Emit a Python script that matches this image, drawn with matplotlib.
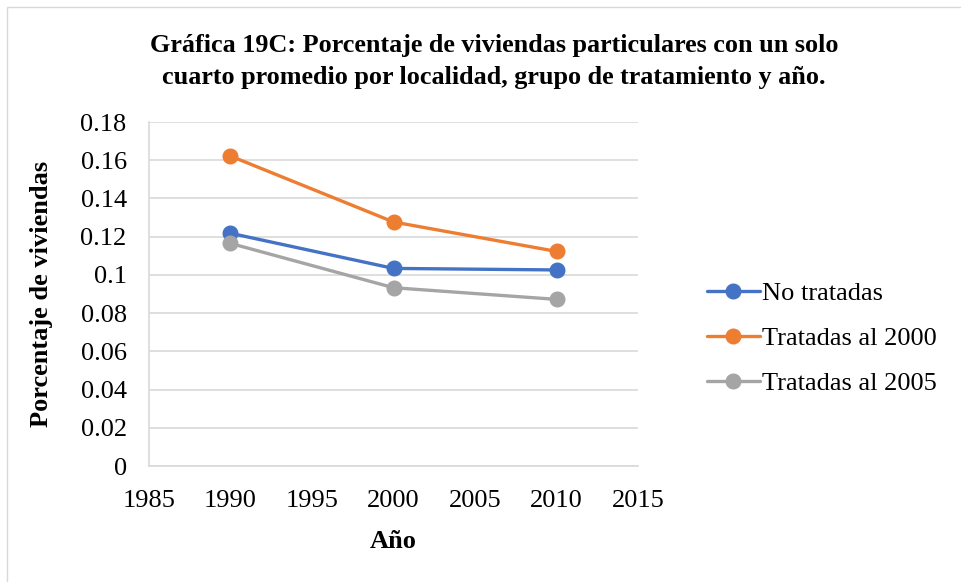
import matplotlib
matplotlib.use("Agg")
import matplotlib.pyplot as plt
from matplotlib.patches import Rectangle

plt.rcParams["font.family"] = ["Liberation Serif", "DejaVu Serif"]

# ── data ─────────────────────────────────────────────────────────────────────
years = [1990, 2000, 2010]
no_tratadas = [0.1218, 0.1034, 0.1026]
tratadas_2000 = [0.1622, 0.1277, 0.1123]
tratadas_2005 = [0.1165, 0.0933, 0.0872]

series = [
    ("No tratadas", no_tratadas, "#4472C4"),
    ("Tratadas al 2000", tratadas_2000, "#ED7D31"),
    ("Tratadas al 2005", tratadas_2005, "#A5A5A5"),
]

xticks = [1985, 1990, 1995, 2000, 2005, 2010, 2015]
yticks = [0, 0.02, 0.04, 0.06, 0.08, 0.1, 0.12, 0.14, 0.16, 0.18]
ytick_labels = ["0", "0.02", "0.04", "0.06", "0.08", "0.1", "0.12",
                "0.14", "0.16", "0.18"]

# ── figure ───────────────────────────────────────────────────────────────────
fig = plt.figure(figsize=(9.61, 5.82), dpi=100)
# chart-area frame (only top/left edges fall inside the canvas)
fig.patches.append(Rectangle((0.0073, -0.1), 1.1, 1.088, transform=fig.transFigure,
                             fill=False, edgecolor="#D9D9D9", lw=1.0))
ax = fig.add_axes([0.155, 0.1993, 0.509, 0.591])

for label, vals, color in series:
    ax.plot(years, vals, color=color, lw=2.4, marker="o", ms=10.5,
            label=label, solid_capstyle="round")

ax.set_xlim(1985, 2015)
ax.set_ylim(0, 0.18)
ax.set_xticks(xticks)
ax.set_yticks(yticks)
ax.set_yticklabels(ytick_labels)
ax.grid(axis="y", color="#D9D9D9", lw=1.2)
ax.set_axisbelow(True)
for side in ("top", "right"):
    ax.spines[side].set_visible(False)
for side in ("left", "bottom"):
    ax.spines[side].set_color("#D9D9D9")
    ax.spines[side].set_linewidth(1.2)
ax.tick_params(length=0, labelsize=19)
ax.tick_params(axis="y", pad=16)
ax.tick_params(axis="x", pad=17)

ax.set_xlabel("Año", fontsize=19, fontweight="bold", labelpad=13)
ax.set_ylabel("Porcentaje de viviendas", fontsize=19, fontweight="bold", labelpad=20)

fig.text(0.514, 0.894,
         "Gráfica 19C: Porcentaje de viviendas particulares con un solo\n"
         "cuarto promedio por localidad, grupo de tratamiento y año.",
         ha="center", va="center", fontsize=18.8, fontweight="bold", linespacing=1.5)

fig.legend(loc="center left", bbox_to_anchor=(0.711, 0.419), frameon=False,
           fontsize=19, handlelength=2.0, handletextpad=0.1, labelspacing=0.82)

fig.savefig("out.png", dpi=100)
